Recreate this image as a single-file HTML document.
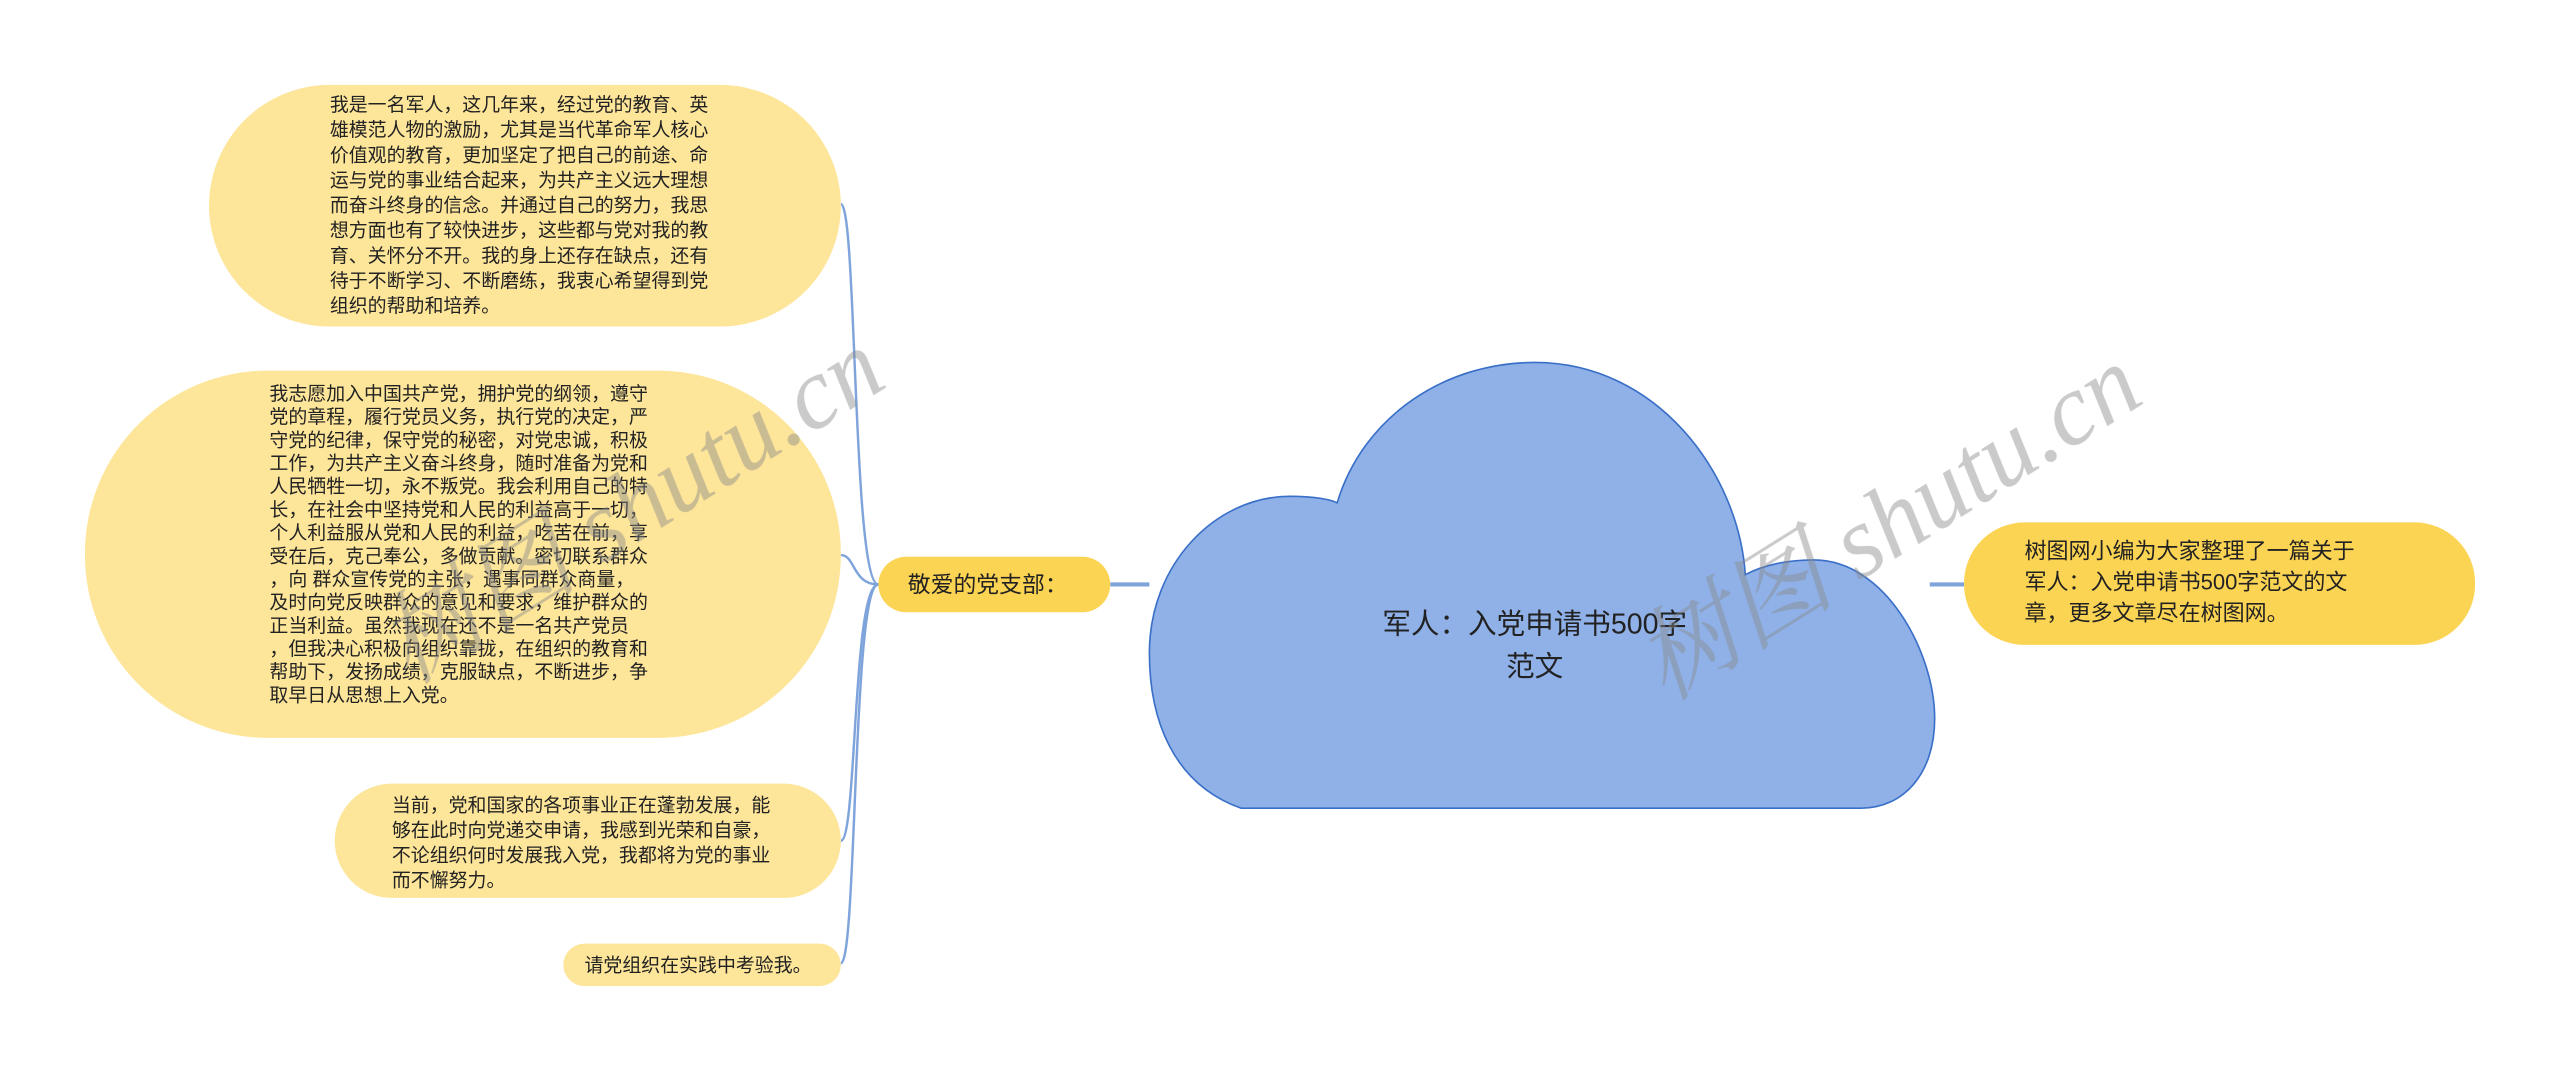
<!DOCTYPE html>
<html><head><meta charset="utf-8"><style>
html,body{margin:0;padding:0;background:#fff;width:2560px;height:1070px;overflow:hidden}
svg{display:block}
text{font-family:"Liberation Sans","Noto Sans CJK SC",sans-serif;fill:#222}
</style></head><body>
<svg width="2560" height="1070" viewBox="0 0 1568 655.4" xmlns="http://www.w3.org/2000/svg">
<g fill="none" stroke="#7fa4dc" stroke-width="1.5">
<path d="M538 358 C522 358 525 125 515 125"/>
<path d="M538 358 C522 358 524 340 515 340"/>
<path d="M538 358 C522 358 525 515 515 515"/>
<path d="M538 358 C522 358 525 590 515 590"/>
<line x1="680" y1="358" x2="704" y2="358" stroke-width="2.5"/>
<line x1="1182" y1="358" x2="1203" y2="358" stroke-width="2.5"/>
</g>
<rect x="128" y="52" width="387" height="148" rx="74" fill="#fde59a"/>
<rect x="52" y="227" width="463" height="225" rx="112" fill="#fde59a"/>
<rect x="205" y="480" width="310" height="70" rx="35" fill="#fde59a"/>
<rect x="345" y="578" width="170" height="26" rx="13" fill="#fde59a"/>
<rect x="538" y="341" width="142" height="34" rx="17" fill="#fcd453"/>
<rect x="1203" y="320" width="313" height="75" rx="37" fill="#fcd453"/>
<path d="M760 495 C718 480 704 440 704 400 C704 345 745 304 790 304 C805 304 815 306 819 308 C835 255 885 222 940 222 C1015 222 1065 290 1069 352 C1080 346 1095 343 1111 343 C1155 343 1185 400 1185 440 C1185 475 1165 495 1140 495 Z" fill="#8fb1e8" stroke="#3a6fc8" stroke-width="1"/>
<g font-size="11.6">
<text x="202" y="68">我是一名军人，这几年来，经过党的教育、英</text>
<text x="202" y="83.4">雄模范人物的激励，尤其是当代革命军人核心</text>
<text x="202" y="98.8">价值观的教育，更加坚定了把自己的前途、命</text>
<text x="202" y="114.2">运与党的事业结合起来，为共产主义远大理想</text>
<text x="202" y="129.6">而奋斗终身的信念。并通过自己的努力，我思</text>
<text x="202" y="145">想方面也有了较快进步，这些都与党对我的教</text>
<text x="202" y="160.4">育、关怀分不开。我的身上还存在缺点，还有</text>
<text x="202" y="175.8">待于不断学习、不断磨练，我衷心希望得到党</text>
<text x="202" y="191.2">组织的帮助和培养。</text>
</g>
<g font-size="11.6">
<text x="165" y="245">我志愿加入中国共产党，拥护党的纲领，遵守</text>
<text x="165" y="259.2">党的章程，履行党员义务，执行党的决定，严</text>
<text x="165" y="273.4">守党的纪律，保守党的秘密，对党忠诚，积极</text>
<text x="165" y="287.6">工作，为共产主义奋斗终身，随时准备为党和</text>
<text x="165" y="301.8">人民牺牲一切，永不叛党。我会利用自己的特</text>
<text x="165" y="316">长，在社会中坚持党和人民的利益高于一切，</text>
<text x="165" y="330.2">个人利益服从党和人民的利益，吃苦在前，享</text>
<text x="165" y="344.4">受在后，克己奉公，多做贡献。密切联系群众</text>
<text x="165" y="358.6">，向 群众宣传党的主张，遇事同群众商量，</text>
<text x="165" y="372.8">及时向党反映群众的意见和要求，维护群众的</text>
<text x="165" y="387">正当利益。虽然我现在还不是一名共产党员</text>
<text x="165" y="401.2">，但我决心积极向组织靠拢，在组织的教育和</text>
<text x="165" y="415.4">帮助下，发扬成绩，克服缺点，不断进步，争</text>
<text x="165" y="429.6">取早日从思想上入党。</text>
</g>
<g font-size="11.6">
<text x="240" y="497">当前，党和国家的各项事业正在蓬勃发展，能</text>
<text x="240" y="512.3">够在此时向党递交申请，我感到光荣和自豪，</text>
<text x="240" y="527.6">不论组织何时发展我入党，我都将为党的事业</text>
<text x="240" y="542.9">而不懈努力。</text>
<text x="358" y="595">请党组织在实践中考验我。</text>
</g>
<text x="556" y="363" font-size="14">敬爱的党支部：</text>
<g font-size="13.5">
<text x="1240" y="342">树图网小编为大家整理了一篇关于</text>
<text x="1240" y="361">军人：入党申请书500字范文的文</text>
<text x="1240" y="380">章，更多文章尽在树图网。</text>
</g>
<text x="940" y="388" font-size="17.5" text-anchor="middle">军人：入党申请书500字</text>
<text x="940" y="414" font-size="17.5" text-anchor="middle">范文</text>
<g opacity="0.45">
<text x="0" y="0" transform="translate(250,420) rotate(-32)" style="fill:#888;font-family:'Liberation Serif','Noto Serif CJK SC',serif;font-style:italic;font-size:62px">树图 shutu.cn</text>
<text x="0" y="0" transform="translate(1020,430) rotate(-32)" style="fill:#888;font-family:'Liberation Serif','Noto Serif CJK SC',serif;font-style:italic;font-size:62px">树图 shutu.cn</text>
</g>
</svg>
</body></html>
